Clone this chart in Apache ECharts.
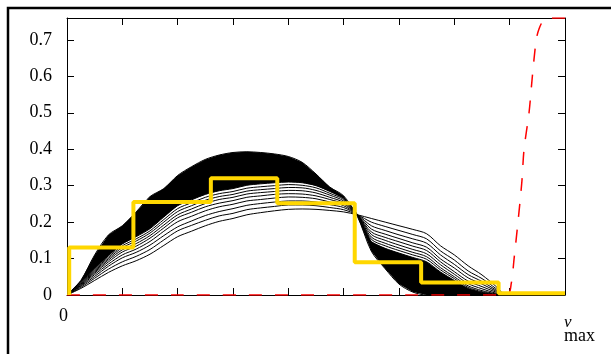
<!DOCTYPE html>
<html>
<head>
<meta charset="utf-8">
<script src="https://cdn.jsdelivr.net/npm/echarts@6/dist/echarts.min.js"></script>
<style>
  html, body { margin: 0; padding: 0; background: #fff; }
  #chart { width: 611px; height: 354px; }
</style>
</head>
<body>
<div id="chart"></div>
<script>
// shared x positions of the black curve family (axis runs 0 .. vmax = 9)
const xGrid = [0, 0.25, 0.5, 0.75, 1, 1.25, 1.5, 1.75, 2, 2.25, 2.5, 2.75, 3, 3.25, 3.5, 3.75,
  4, 4.25, 4.5, 4.75, 5, 5.25, 5.5, 5.75, 6, 6.25, 6.5, 6.75, 7, 7.25, 7.5, 7.75, 7.9]

// sharpest curve (top of the dark band on the left)
const ySharp = [0, 0.04, 0.11, 0.165, 0.19, 0.228, 0.27, 0.292, 0.328, 0.352, 0.372, 0.384, 0.391, 0.393, 0.391, 0.387,
  0.38, 0.364, 0.332, 0.296, 0.272, 0.215, 0.12, 0.072, 0.03, 0.008, 0, 0, 0, 0, 0, 0, 0]
// visible separate curves, from the dense band out to the broadest one
const yC8 = [0, 0.036, 0.072, 0.108, 0.14, 0.16, 0.182, 0.214, 0.245, 0.261, 0.276, 0.286, 0.292, 0.301, 0.305, 0.308,
  0.31, 0.308, 0.3, 0.284, 0.265, 0.22, 0.147, 0.128, 0.115, 0.103, 0.091, 0.063, 0.04, 0.018, 0.007, 0.001, 0]
const yC7 = [0, 0.034, 0.069, 0.104, 0.135, 0.154, 0.176, 0.207, 0.237, 0.253, 0.268, 0.278, 0.284, 0.293, 0.297, 0.3,
  0.303, 0.301, 0.294, 0.279, 0.262, 0.22, 0.153, 0.135, 0.122, 0.11, 0.098, 0.069, 0.045, 0.021, 0.009, 0.002, 0]
const yC6 = [0, 0.032, 0.066, 0.1, 0.13, 0.148, 0.17, 0.2, 0.229, 0.245, 0.26, 0.27, 0.276, 0.285, 0.289, 0.292,
  0.295, 0.294, 0.287, 0.274, 0.258, 0.22, 0.159, 0.142, 0.129, 0.117, 0.105, 0.075, 0.05, 0.025, 0.012, 0.003, 0]
const yC5 = [0, 0.03, 0.063, 0.096, 0.124, 0.141, 0.163, 0.192, 0.22, 0.236, 0.251, 0.262, 0.268, 0.277, 0.281, 0.284,
  0.287, 0.286, 0.28, 0.268, 0.254, 0.22, 0.166, 0.15, 0.137, 0.125, 0.113, 0.083, 0.057, 0.031, 0.017, 0.005, 0]
const yC4 = [0, 0.028, 0.06, 0.091, 0.118, 0.134, 0.156, 0.184, 0.212, 0.227, 0.242, 0.252, 0.259, 0.268, 0.272, 0.276,
  0.278, 0.277, 0.272, 0.262, 0.25, 0.22, 0.173, 0.158, 0.146, 0.134, 0.122, 0.091, 0.064, 0.038, 0.023, 0.008, 0]
const yC3 = [0, 0.026, 0.056, 0.085, 0.11, 0.126, 0.147, 0.175, 0.201, 0.216, 0.231, 0.242, 0.249, 0.258, 0.262, 0.266,
  0.269, 0.268, 0.264, 0.255, 0.245, 0.22, 0.181, 0.167, 0.155, 0.143, 0.131, 0.099, 0.074, 0.047, 0.03, 0.011, 0]
const yC2 = [0, 0.024, 0.051, 0.079, 0.102, 0.117, 0.137, 0.163, 0.187, 0.203, 0.218, 0.229, 0.237, 0.246, 0.251, 0.255,
  0.258, 0.258, 0.255, 0.248, 0.24, 0.22, 0.19, 0.177, 0.165, 0.154, 0.142, 0.11, 0.084, 0.056, 0.037, 0.014, 0]
const yC1 = [0, 0.021, 0.046, 0.071, 0.091, 0.106, 0.125, 0.151, 0.176, 0.191, 0.205, 0.217, 0.224, 0.234, 0.239, 0.243,
  0.247, 0.247, 0.245, 0.24, 0.234, 0.22, 0.2, 0.188, 0.177, 0.166, 0.154, 0.121, 0.096, 0.066, 0.045, 0.018, 0]
const yBroad = [0, 0.018, 0.04, 0.062, 0.08, 0.094, 0.112, 0.136, 0.16, 0.175, 0.19, 0.202, 0.21, 0.22, 0.226, 0.231,
  0.235, 0.236, 0.235, 0.232, 0.228, 0.22, 0.21, 0.2, 0.19, 0.18, 0.168, 0.135, 0.11, 0.08, 0.055, 0.024, 0]

// yellow histogram (value holds until the next x)
const stepX = [0.04, 0.04, 1.2, 2.6, 3.8, 5.2, 6.4, 7.8, 9]
const stepY = [0, 0.13, 0.255, 0.32, 0.252, 0.09, 0.034, 0.005, 0.005]

// red dashed curve
const redX = [0, 7.95, 8.03, 8.08, 8.15, 8.22, 8.26, 8.35, 8.41, 8.48, 8.53, 8.62, 8.75, 9]
const redY = [0, 0, 0.033, 0.1, 0.2, 0.31, 0.4, 0.5, 0.6, 0.7, 0.73, 0.755, 0.76, 0.76]

const yTicks = [0, 0.1, 0.2, 0.3, 0.4, 0.5, 0.6, 0.7]

const serif = 'Liberation Serif'
const pairs = (xs, ys) => xs.map((x, i) => [x, ys[i]])

const chart = echarts.init(document.getElementById('chart'))

const curveSeries = [ySharp, yC8, yC7, yC6, yC5, yC4, yC3, yC2, yC1, yBroad].map((ys) => ({
    type: 'line',
    data: pairs(xGrid, ys),
    symbol: 'none',
    smooth: 0.3,
    silent: true,
    lineStyle: { color: '#000', width: 1 },
    z: 3
}))

const axisCommon = {
    type: 'value',
    axisLine: { show: true, onZero: false, lineStyle: { color: '#000', width: 1 } },
    axisTick: { show: true, inside: true, length: 7, lineStyle: { color: '#000' } },
    splitLine: { show: false }
}

const option = {
    animation: false,
    backgroundColor: '#fff',
    grid: { left: 67, right: 46, top: 18, bottom: 59, containLabel: false, outerBoundsMode: 'none' },
    graphic: [{
        // outer frame, runs off the right and bottom edges
        type: 'rect',
        shape: { x: 8, y: 8, width: 700, height: 500 },
        style: { fill: 'none', stroke: '#000', lineWidth: 2.5 },
        silent: true
    }],
    xAxis: [
        {
            ...axisCommon,
            position: 'bottom',
            min: 0, max: 9, interval: 1,
            axisLabel: {
                formatter: (v) => (v === 0 ? '0' : ''),
                color: '#000', fontFamily: serif, fontSize: 18, margin: 12,
                padding: [0, 7, 0, 0]
            },
            name: '{v|v}\n{m|max}',
            nameLocation: 'end',
            nameGap: -1,
            nameTextStyle: {
                align: 'left',
                verticalAlign: 'top',
                padding: [23, 0, 0, 0],
                rich: {
                    v: { fontFamily: serif, fontStyle: 'italic', fontSize: 17, color: '#000', lineHeight: 9 },
                    m: { fontFamily: serif, fontSize: 18, color: '#000', lineHeight: 18 }
                }
            }
        },
        {
            ...axisCommon,
            position: 'top',
            min: 0, max: 9, interval: 1,
            axisLabel: { show: false }
        }
    ],
    yAxis: [
        {
            ...axisCommon,
            position: 'left',
            min: 0, max: 0.76, interval: 0.1,
            axisLabel: {
                formatter: (v) => {
                    const t = yTicks.find((k) => Math.abs(k - v) < 1e-6)
                    return t === undefined ? '' : String(t)
                },
                color: '#000', fontFamily: serif, fontSize: 18, margin: 15
            }
        },
        {
            ...axisCommon,
            position: 'right',
            min: 0, max: 0.76, interval: 0.1,
            axisLabel: { show: false }
        }
    ],
    series: [
        {
            // dense part of the curve family, between the sharpest curve and C8
            type: 'custom',
            silent: true,
            clip: true,
            data: [[0, 0]],
            z: 2,
            renderItem: (params, api) => {
                const pts = xGrid.map((x, i) => api.coord([x, ySharp[i]]))
                for (let i = xGrid.length - 1; i >= 0; i--) {
                    pts.push(api.coord([xGrid[i], yC8[i]]))
                }
                return {
                    type: 'polygon',
                    shape: { points: pts },
                    style: { fill: '#000' }
                }
            }
        },
        ...curveSeries,
        {
            type: 'line',
            data: pairs(redX, redY),
            symbol: 'none',
            smooth: 0.3,
            silent: true,
            lineStyle: { color: '#ff0000', width: 1.5, type: [13, 13] },
            z: 4
        },
        {
            type: 'line',
            data: pairs(stepX, stepY),
            step: 'end',
            symbol: 'none',
            silent: true,
            lineStyle: { color: '#ffd700', width: 4 },
            z: 5
        }
    ]
}

chart.setOption(option)
</script>
</body>
</html>
